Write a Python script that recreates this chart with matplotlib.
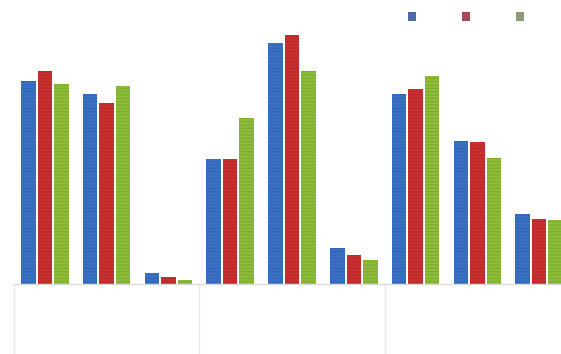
import matplotlib
matplotlib.use("Agg")
import matplotlib.pyplot as plt
from matplotlib.patches import Patch
import numpy as np

# Nine categories in three blocks of three, three series each
categories = ["", "", "", "", "", "", "", "", ""]
series_a = [203, 190, 11, 125, 241, 36, 190, 143, 70]
series_b = [213, 181, 7, 125, 249, 29, 195, 142, 65]
series_c = [200, 198, 4, 166, 213, 24, 208, 126, 64]
block_edges = [-0.5, 2.5, 5.5, 8.5]

colors = ["#3a70c4", "#c92f2f", "#8cbc38"]
hatch_colors = ["#3262b0", "#b42828", "#7aa82e"]
legend_colors = ["#4d6ca3", "#a34a52", "#8e9c7a"]

plt.rcParams["hatch.linewidth"] = 0.6

fig = plt.figure(figsize=(5.61, 3.54), dpi=100)
W, H = 561, 354
left_px, right_px, bottom_px, top_px = 14, 570, 284, 4
ax = fig.add_axes([left_px / W, 1 - bottom_px / H,
                   (right_px - left_px) / W, (bottom_px - top_px) / H])

x = np.arange(len(categories))
offset = 0.267
width = 0.235
for i, (vals, c, hc) in enumerate(zip([series_a, series_b, series_c], colors, hatch_colors)):
    ax.bar(x + (i - 1) * offset, vals, width=width, color=c, edgecolor=hc,
           linewidth=0, hatch="-----", zorder=2)

ax.set_xlim(-0.5, 8.5)
ax.set_ylim(0, 280)

for side in ["top", "right", "left"]:
    ax.spines[side].set_visible(False)
ax.spines["bottom"].set_color("#dcdcdc")
ax.spines["bottom"].set_linewidth(1.0)
ax.set_xticks([])
ax.set_yticks([])

# block separators below the category axis
trans = ax.get_xaxis_transform()
depth = (H - bottom_px) / (bottom_px - top_px)
for xe in block_edges:
    ax.plot([xe, xe], [0, -depth], transform=trans, color="#e8e8e8",
            linewidth=1.0, clip_on=False)

handles = [Patch(facecolor=c, edgecolor="none") for c in legend_colors]
fig.legend(handles, ["", "", ""], ncol=3, frameon=False,
           loc="center", bbox_to_anchor=(466 / W, 1 - 17.5 / H),
           handlelength=0.55, handleheight=0.55, handletextpad=0.0,
           columnspacing=3.35, borderpad=0, borderaxespad=0)

fig.savefig("out.png", dpi=100)
